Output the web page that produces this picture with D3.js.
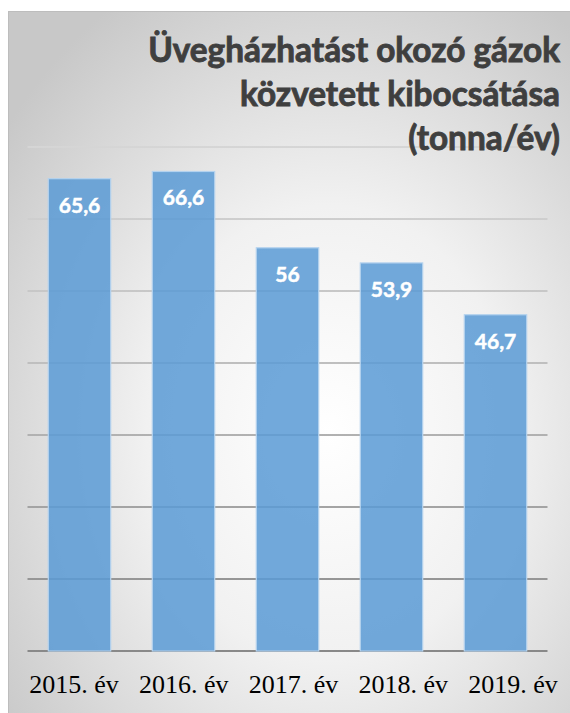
<!DOCTYPE html>
<html lang="hu">
<head>
  <meta charset="UTF-8">
  <title>Üvegházhatást okozó gázok</title>
  <script src="https://d3js.org/d3.v7.min.js"></script>
  <style>
    html, body { margin: 0; padding: 0; background: #fff; }
    svg { display: block; }
    .title { font-family: Lato, "Open Sans", sans-serif; font-weight: 700; fill: #3f3f3f; stroke: #3f3f3f; stroke-width: 0.9px; }
    .val { font-family: Lato, "Open Sans", sans-serif; font-weight: 700; font-size: 21px; fill: #fff; stroke: #fff; stroke-width: 0.5px; }
    .xlab { font-family: "Liberation Serif", "Times New Roman", serif; font-size: 26px; fill: #000; }
  </style>
</head>
<body>
  <svg id="chart" width="570" height="713"></svg>
  <script>
    // Data
    const years = ["2015. év", "2016. év", "2017. év", "2018. év", "2019. év"];
    const values = [65.6, 66.6, 56, 53.9, 46.7];
    const labels = ["65,6", "66,6", "56", "53,9", "46,7"];
    const gridTicks = [0, 10, 20, 30, 40, 50, 60, 70];
    const titleLines = ["Üvegházhatást okozó gázok", "közvetett kibocsátása", "(tonna/év)"];

    const W = 570, H = 713;
    const svg = d3.select("#chart");
    const defs = svg.append("defs");

    // radial background like the office chart area
    const bg = defs.append("radialGradient")
      .attr("id", "bg").attr("cx", "57%").attr("cy", "60%").attr("r", "72%");
    bg.append("stop").attr("offset", "0%").attr("stop-color", "#ffffff");
    bg.append("stop").attr("offset", "45%").attr("stop-color", "#f1f1f1");
    bg.append("stop").attr("offset", "100%").attr("stop-color", "#c8c8c8");

    // gridlines get darker toward the bottom
    const gg = defs.append("linearGradient")
      .attr("id", "grid").attr("gradientUnits", "userSpaceOnUse")
      .attr("x1", 0).attr("x2", 0).attr("y1", 140).attr("y2", 655);
    gg.append("stop").attr("offset", "0%").attr("stop-color", "#d6d6d6");
    gg.append("stop").attr("offset", "40%").attr("stop-color", "#c2c2c2");
    gg.append("stop").attr("offset", "100%").attr("stop-color", "#888888");

    svg.append("rect")
      .attr("x", 8.5).attr("y", 11.5)
      .attr("width", W - 8).attr("height", H - 11)
      .attr("fill", "url(#bg)")
      .attr("stroke", "#bdbdbd");

    const x = d3.scaleBand()
      .domain(years)
      .range([27.5, 547.5])
      .paddingInner(0.4)
      .paddingOuter(0.2);

    // the year labels sit a bit wider apart than the bars in the original
    const xl = d3.scalePoint()
      .domain(years)
      .range([74, 513]);

    const y = d3.scaleLinear()
      .domain([0, 70])
      .range([651, 147]);

    // Gridlines
    svg.append("g")
      .selectAll("line")
      .data(gridTicks)
      .enter().append("line")
      .attr("x1", 27.5).attr("x2", 547.5)
      .attr("y1", d => y(d)).attr("y2", d => y(d))
      .attr("stroke", "url(#grid)")
      .attr("stroke-width", 2);

    // Bars
    svg.append("g")
      .selectAll("rect")
      .data(values)
      .enter().append("rect")
      .attr("x", (d, i) => x(years[i]))
      .attr("y", d => y(d))
      .attr("width", x.bandwidth())
      .attr("height", d => y(0) - y(d))
      .attr("fill", "#5b9bd5")
      .attr("fill-opacity", 0.86)
      .attr("stroke", "#b4d2ee")
      .attr("stroke-width", 1.2);

    // Value labels
    svg.append("g")
      .selectAll("text")
      .data(values)
      .enter().append("text")
      .attr("class", "val")
      .attr("x", (d, i) => x(years[i]) + x.bandwidth() / 2)
      .attr("y", d => y(d) + 34)
      .attr("text-anchor", "middle")
      .text((d, i) => labels[i]);

    // Category labels
    svg.append("g")
      .selectAll("text")
      .data(years)
      .enter().append("text")
      .attr("class", "xlab")
      .attr("x", d => xl(d))
      .attr("y", 693)
      .attr("text-anchor", "middle")
      .text(d => d);

    // Title, right aligned; size chosen so the first line spans like the original
    const tl = svg.append("g")
      .selectAll("text")
      .data(titleLines)
      .enter().append("text")
      .attr("class", "title")
      .attr("x", 560)
      .attr("y", (d, i) => 62 + i * 44)
      .attr("text-anchor", "end")
      .style("font-size", "32px")
      .text(d => d);
    const w0 = tl.node().getComputedTextLength();
    tl.style("font-size", (32 * 412 / w0) + "px");
  </script>
</body>
</html>
